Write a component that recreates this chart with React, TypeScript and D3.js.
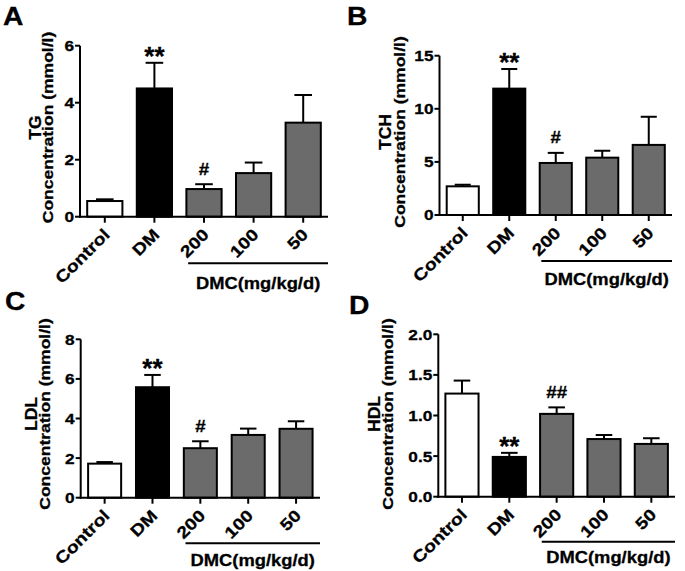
import React from 'react';
import * as d3 from 'd3';

// ---- data ----
const categories = ['Control', 'DM', '200', '100', '50'];

const tgMean = [0.55, 4.5, 0.97, 1.53, 3.3];
const tgErr = [0.06, 0.9, 0.17, 0.37, 0.97];
const tgTicks = [0, 2, 4, 6];
const tgMarks = ['', '**', '#', '', ''];

const tchMean = [2.7, 11.9, 4.9, 5.4, 6.6];
const tchErr = [0.15, 1.85, 0.95, 0.65, 2.65];
const tchTicks = [0, 5, 10, 15];
const tchMarks = ['', '**', '#', '', ''];

const ldlMean = [1.72, 5.58, 2.5, 3.17, 3.48];
const ldlErr = [0.08, 0.62, 0.35, 0.32, 0.38];
const ldlTicks = [0, 2, 4, 6, 8];
const ldlMarks = ['', '**', '#', '', ''];

const hdlMean = [1.27, 0.49, 1.02, 0.71, 0.65];
const hdlErr = [0.16, 0.05, 0.08, 0.05, 0.07];
const hdlTicks = [0, 0.5, 1.0, 1.5, 2.0];
const hdlMarks = ['', '**', '##', '', ''];

const yTitle = 'Concentration (mmol/l)';
const groupLabel = 'DMC(mg/kg/d)';
const groupStart = '200';

// ---- layout / style ----
const FONT = '"Liberation Sans", Arial, Helvetica, sans-serif';
const fills = ['#ffffff', '#000000', '#6b6b6b', '#6b6b6b', '#6b6b6b'];

const panels = [
  { letter: 'A', lx: 3, ly: 25, x0: 80, x1: 328, yb: 216.7, yt: 45.7, ticks: tgTicks, fmt: 'd', name: 'TG', mean: tgMean, err: tgErr, marks: tgMarks, tX: 53.3, nX: 40.7, tY: 127.5, pad: 0.29, lineDy: 46.5, textDy: 72 },
  { letter: 'B', lx: 347, ly: 25, x0: 439.5, x1: 672, yb: 215, yt: 55.7, ticks: tchTicks, fmt: 'd', name: 'TCH', mean: tchMean, err: tchErr, marks: tchMarks, tX: 404.5, nX: 391, tY: 132, pad: 0.31, lineDy: 46, textDy: 70 },
  { letter: 'C', lx: 5, ly: 310, x0: 80.7, x1: 320, yb: 497.7, yt: 339.3, ticks: ldlTicks, fmt: 'd', name: 'LDL', mean: ldlMean, err: ldlErr, marks: ldlMarks, tX: 50, nX: 37, tY: 414, pad: 0.31, lineDy: 45.6, textDy: 68 },
  { letter: 'D', lx: 349, ly: 314, x0: 438.3, x1: 675, yb: 496.7, yt: 334.3, ticks: hdlTicks, fmt: '.1f', name: 'HDL', mean: hdlMean, err: hdlErr, marks: hdlMarks, tX: 393, nX: 379.5, tY: 414, pad: 0.3, lineDy: 45, textDy: 66 },
];

function T(props: any) {
  const { x, y, rot = 0, k = 1.15, size = 14, anchor = 'start', dy, children } = props;
  return (
    <text
      transform={`translate(${x},${y}) rotate(${rot}) scale(${k},1)`}
      fontSize={size}
      fontWeight="bold"
      fontFamily={FONT}
      textAnchor={anchor}
      dy={dy}
      fill="#000"
      stroke="#000"
      strokeWidth={0.3}
    >
      {children}
    </text>
  );
}

function Panel({ p }: { p: any }) {
  const x = d3.scaleBand<string>()
    .domain(categories)
    .range([p.x0, p.x1])
    .paddingInner(p.pad)
    .paddingOuter(p.pad / 2);
  const y = d3.scaleLinear()
    .domain([0, p.ticks[p.ticks.length - 1]])
    .range([p.yb, p.yt]);
  const fmt = d3.format(p.fmt);
  const bw = x.bandwidth();
  const sw = 2;
  const gStart = (x(groupStart) as number) + bw * 0.05;

  return (
    <g>
      <T x={p.lx} y={p.ly} size={25} k={1.13}>{p.letter}</T>
      {/* y titles */}
      <T x={p.nX} y={p.tY} rot={-90} size={16} k={1.1} anchor="middle">{p.name}</T>
      <T x={p.tX} y={p.tY} rot={-90} size={15.5} k={1.13} anchor="middle">{yTitle}</T>

      {/* bars */}
      {categories.map((c, i) => {
        const bx = x(c) as number;
        const cx = bx + bw / 2;
        const top = y(p.mean[i]);
        const et = y(p.mean[i] + p.err[i]);
        return (
          <g key={c}>
            <line x1={cx} x2={cx} y1={top} y2={et} stroke="#000" strokeWidth={sw} />
            <line x1={cx - bw / 4} x2={cx + bw / 4} y1={et} y2={et} stroke="#000" strokeWidth={sw} />
            <rect x={bx} y={top} width={bw} height={p.yb - top} fill={fills[i]} stroke="#000" strokeWidth={sw} />
            {p.marks[i] === '**' && (
              <T x={cx} y={et + 2.5} size={26} k={1.0} anchor="middle">{p.marks[i]}</T>
            )}
            {p.marks[i] && p.marks[i] !== '**' && (
              <T x={cx} y={et - 9.5} size={17} k={1.1} anchor="middle">{p.marks[i]}</T>
            )}
          </g>
        );
      })}

      {/* y axis */}
      <line x1={p.x0} x2={p.x0} y1={p.yb + 1} y2={p.yt} stroke="#000" strokeWidth={sw} />
      {p.ticks.map((t: number) => (
        <g key={t}>
          <line x1={p.x0 - 5} x2={p.x0} y1={y(t)} y2={y(t)} stroke="#000" strokeWidth={sw} />
          <T x={p.x0 - 6} y={y(t)} dy="0.36em" size={15} k={1.15} anchor="end">{fmt(t)}</T>
        </g>
      ))}

      {/* x axis */}
      <line x1={p.x0 - 1} x2={p.x1} y1={p.yb} y2={p.yb} stroke="#000" strokeWidth={sw} />
      {categories.map((c) => {
        const cx = (x(c) as number) + bw / 2;
        return (
          <g key={c}>
            <line x1={cx} x2={cx} y1={p.yb} y2={p.yb + 6} stroke="#000" strokeWidth={sw} />
            <T x={cx + 6} y={p.yb + 19} rot={-45} size={16.5} k={1.18} anchor="end">{c}</T>
          </g>
        );
      })}

      {/* group bracket */}
      <line x1={gStart} x2={p.x1} y1={p.yb + p.lineDy} y2={p.yb + p.lineDy} stroke="#000" strokeWidth={sw} />
      <T x={(gStart + p.x1) / 2} y={p.yb + p.textDy} size={17} k={1.08} anchor="middle">{groupLabel}</T>
    </g>
  );
}

export default function App() {
  return (
    <svg
      width={685}
      height={571}
      viewBox="0 0 685 571"
      style={{ position: 'absolute', left: 0, top: 0, background: '#fff' }}
    >
      <rect x={0} y={0} width={685} height={571} fill="#fff" />
      {panels.map((p) => (
        <Panel key={p.letter} p={p} />
      ))}
    </svg>
  );
}
